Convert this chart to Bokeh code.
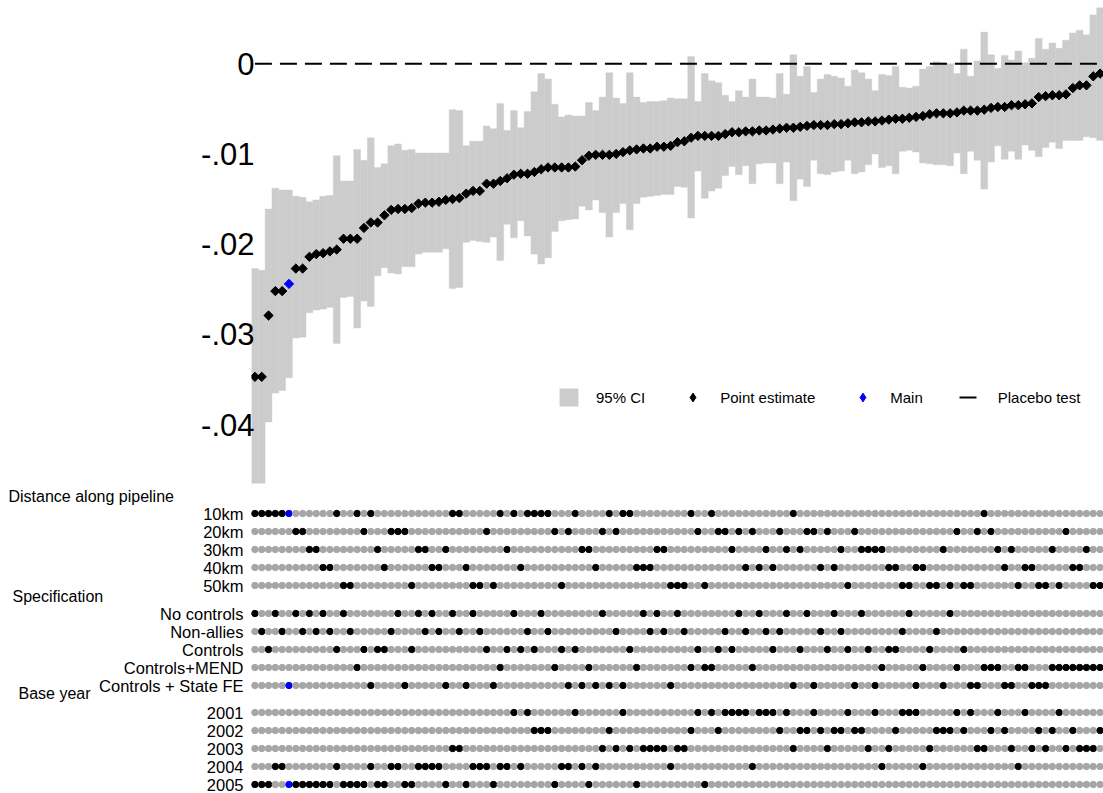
from bokeh.plotting import figure
from bokeh.models import Range1d, FixedTicker, CustomJSTickFormatter, Legend, LegendItem, ColumnDataSource
from bokeh.layouts import column
from bokeh.embed import file_html
from bokeh.resources import INLINE
from bokeh.core.properties import value
import math

# ---------------------------------------------------------------------------
# Specification curve: sorted point estimates with 95% confidence intervals
# ---------------------------------------------------------------------------
estimate = [
    -0.0347, -0.0347, -0.0279, -0.0252, -0.0252, -0.0244, -0.0227, -0.0227, -0.0214, -0.0211,
    -0.0210, -0.0208, -0.0206, -0.0194, -0.0194, -0.0194, -0.0182, -0.0176, -0.0176, -0.0168,
    -0.0162, -0.0161, -0.0161, -0.0160, -0.0155, -0.0154, -0.0154, -0.0153, -0.0151, -0.0150,
    -0.0149, -0.0144, -0.0141, -0.0141, -0.0133, -0.0133, -0.0130, -0.0127, -0.0123, -0.0122,
    -0.0122, -0.0120, -0.0117, -0.0115, -0.0115, -0.0115, -0.0115, -0.0114, -0.0107, -0.0102,
    -0.0101, -0.0101, -0.0101, -0.0100, -0.0098, -0.0096, -0.0095, -0.0094, -0.0094, -0.0092,
    -0.0092, -0.0091, -0.0087, -0.0086, -0.0082, -0.0080, -0.0080, -0.0080, -0.0080, -0.0078,
    -0.0076, -0.0076, -0.0075, -0.0075, -0.0074, -0.0074, -0.0073, -0.0072, -0.0071, -0.0071,
    -0.0070, -0.0069, -0.0068, -0.0068, -0.0068, -0.0067, -0.0067, -0.0066, -0.0065, -0.0065,
    -0.0064, -0.0064, -0.0063, -0.0062, -0.0061, -0.0061, -0.0060, -0.0059, -0.0058, -0.0056,
    -0.0055, -0.0055, -0.0055, -0.0054, -0.0052, -0.0052, -0.0052, -0.0051, -0.0049, -0.0048,
    -0.0048, -0.0046, -0.0046, -0.0045, -0.0044, -0.0037, -0.0036, -0.0035, -0.0035, -0.0034,
    -0.0027, -0.0024, -0.0024, -0.0014, -0.0011,
]

ci_upper = [
    -0.0227, -0.0229, -0.0161, -0.0138, -0.0140, -0.0140, -0.0147, -0.0148, -0.0153, -0.0151,
    -0.0147, -0.0146, -0.0102, -0.0130, -0.0130, -0.0095, -0.0107, -0.0082, -0.0115, -0.0111,
    -0.0091, -0.0089, -0.0096, -0.0095, -0.0099, -0.0099, -0.0099, -0.0099, -0.0099, -0.0051,
    -0.0052, -0.0091, -0.0086, -0.0086, -0.0069, -0.0072, -0.0044, -0.0074, -0.0052, -0.0071,
    -0.0053, -0.0031, -0.0011, -0.0017, -0.0045, -0.0059, -0.0057, -0.0058, -0.0058, -0.0043,
    -0.0052, -0.0037, -0.0010, -0.0038, -0.0044, -0.0010, -0.0037, -0.0043, -0.0042, -0.0042,
    -0.0041, -0.0038, -0.0039, -0.0039, 0.0008, -0.0042, -0.0011, -0.0019, -0.0021, -0.0035,
    -0.0042, -0.0030, -0.0037, -0.0017, -0.0037, -0.0037, -0.0038, -0.0011, -0.0034, 0.0010,
    -0.0014, -0.0003, -0.0032, -0.0017, -0.0012, -0.0014, -0.0016, -0.0025, -0.0007, -0.0010,
    -0.0017, -0.0030, -0.0012, -0.0013, -0.0003, -0.0026, -0.0027, -0.0025, -0.0006, -0.0003,
    0.0002, 0.0001, 0.0000, -0.0011, 0.0016, -0.0014, 0.0003, 0.0035, 0.0010, -0.0005,
    0.0009, 0.0004, 0.0014, 0.0001, 0.0006, 0.0028, 0.0016, 0.0023, 0.0017, 0.0026,
    0.0034, 0.0037, 0.0032, 0.0054, 0.0062,
]

ci_lower = [
    -0.0465, -0.0465, -0.0397, -0.0365, -0.0362, -0.0348, -0.0304, -0.0303, -0.0276, -0.0273,
    -0.0272, -0.0270, -0.0310, -0.0259, -0.0258, -0.0293, -0.0263, -0.0269, -0.0235, -0.0226,
    -0.0232, -0.0233, -0.0225, -0.0225, -0.0211, -0.0209, -0.0209, -0.0209, -0.0205, -0.0249,
    -0.0248, -0.0198, -0.0196, -0.0197, -0.0198, -0.0192, -0.0218, -0.0178, -0.0193, -0.0174,
    -0.0191, -0.0211, -0.0222, -0.0215, -0.0186, -0.0174, -0.0173, -0.0172, -0.0158, -0.0162,
    -0.0151, -0.0165, -0.0192, -0.0165, -0.0155, -0.0184, -0.0155, -0.0148, -0.0147, -0.0146,
    -0.0145, -0.0145, -0.0136, -0.0137, -0.0171, -0.0119, -0.0149, -0.0141, -0.0138, -0.0124,
    -0.0114, -0.0123, -0.0113, -0.0133, -0.0111, -0.0110, -0.0110, -0.0133, -0.0109, -0.0152,
    -0.0128, -0.0136, -0.0107, -0.0122, -0.0123, -0.0120, -0.0119, -0.0107, -0.0122, -0.0120,
    -0.0112, -0.0100, -0.0115, -0.0113, -0.0122, -0.0097, -0.0096, -0.0098, -0.0110, -0.0111,
    -0.0112, -0.0112, -0.0113, -0.0099, -0.0122, -0.0097, -0.0107, -0.0139, -0.0109, -0.0091,
    -0.0106, -0.0097, -0.0106, -0.0090, -0.0096, -0.0103, -0.0093, -0.0087, -0.0094, -0.0085,
    -0.0085, -0.0085, -0.0081, -0.0082, -0.0085,
]

placebo_value = 0.0

# Which specifications (by rank in the sorted curve) use each choice
dist_10km = [0, 1, 2, 3, 4, 5, 12, 15, 17, 29, 30, 36, 38, 40, 41, 42, 43, 47, 52, 54, 55, 64, 67, 79, 107]
dist_20km = [6, 7, 16, 20, 21, 22, 34, 44, 46, 51, 53, 65, 68, 69, 71, 73, 77, 81, 82, 84, 88, 103, 106, 108, 119]
dist_30km = [8, 9, 18, 24, 25, 28, 37, 48, 49, 59, 60, 70, 75, 78, 80, 86, 89, 90, 91, 92, 101, 109, 111, 117, 122]
dist_40km = [10, 11, 19, 26, 27, 31, 39, 50, 56, 57, 58, 72, 74, 76, 83, 85, 93, 94, 97, 98, 110, 113, 114, 120, 121]
dist_50km = [13, 14, 23, 32, 33, 35, 45, 61, 62, 63, 66, 87, 95, 96, 99, 100, 102, 104, 105, 112, 115, 116, 118, 123, 124]

spec_no_controls = [0, 3, 6, 8, 10, 13, 21, 24, 26, 29, 32, 38, 42, 51, 57, 59, 62, 71, 74, 78, 81, 85, 89, 96, 102]
spec_non_allies = [1, 4, 7, 9, 11, 14, 20, 25, 27, 30, 33, 40, 43, 53, 58, 60, 63, 69, 72, 75, 77, 83, 86, 95, 100]
spec_controls = [2, 12, 16, 18, 19, 23, 34, 37, 39, 41, 45, 47, 55, 65, 68, 70, 76, 80, 84, 87, 90, 93, 94, 99, 104]
spec_controls_mend = [15, 36, 44, 49, 56, 64, 66, 67, 73, 92, 98, 103, 107, 108, 109, 112, 113, 117, 118, 119, 120, 121, 122, 123, 124]
spec_controls_state_fe = [5, 17, 22, 28, 31, 35, 46, 48, 50, 52, 54, 61, 79, 82, 88, 91, 97, 101, 105, 106, 110, 111, 114, 115, 116]

year_2001 = [38, 40, 47, 54, 65, 67, 69, 70, 71, 72, 74, 75, 76, 78, 82, 87, 91, 95, 96, 97, 103, 105, 109, 113, 118]
year_2002 = [41, 42, 43, 52, 64, 68, 77, 80, 81, 83, 85, 86, 88, 89, 94, 100, 101, 102, 104, 108, 110, 115, 117, 120, 124]
year_2003 = [29, 30, 51, 53, 55, 57, 58, 59, 60, 62, 63, 79, 84, 90, 93, 99, 106, 107, 111, 114, 116, 119, 121, 122, 123]
year_2004 = [3, 4, 12, 17, 20, 21, 24, 25, 26, 27, 32, 33, 34, 36, 37, 39, 45, 46, 48, 50, 61, 73, 92, 98, 112]
year_2005 = [0, 1, 2, 5, 6, 7, 8, 9, 10, 11, 13, 14, 15, 16, 18, 19, 22, 23, 28, 31, 35, 44, 49, 56, 66]

y_ticks = [0.0, -0.01, -0.02, -0.03, -0.04]

groups = [
    ("Distance along pipeline", [("10km", dist_10km), ("20km", dist_20km), ("30km", dist_30km),
                                 ("40km", dist_40km), ("50km", dist_50km)]),
    ("Specification", [("No controls", spec_no_controls), ("Non-allies", spec_non_allies),
                       ("Controls", spec_controls), ("Controls+MEND", spec_controls_mend),
                       ("Controls + State FE", spec_controls_state_fe)]),
    ("Base year", [("2001", year_2001), ("2002", year_2002), ("2003", year_2003),
                   ("2004", year_2004), ("2005", year_2005)]),
]

# The headline specification: 10km, Controls + State FE, base year 2005
main_rows = [dist_10km, spec_controls_state_fe, year_2005]
main_idx = sorted(set(dist_10km) & set(spec_controls_state_fe) & set(year_2005))[0]

# ---------------------------------------------------------------------------
# Styling
# ---------------------------------------------------------------------------
FONT = "Liberation Sans"
W = 1103
TOP_H = 486
BOT_H = 793 - TOP_H
LEFT = 251                      # width reserved for labels left of the curve
PX_PER_UNIT = 9025              # vertical pixels per unit of the estimate
Y_TOP = 0.0070                  # value at the upper edge of the curve panel
CI_GRAY = "#cccccc"
DOT_GRAY = "#a6a6a6"
MAIN_BLUE = "#0000ff"

n = len(estimate)
idx = list(range(n))


def no_frame_align(p):
    # keep each panel's frame where it is instead of lining the frames up
    try:
        p.frame_align = False
    except AttributeError:
        pass


# ---------------------------------------------------------------------------
# Upper panel: estimates and intervals
# ---------------------------------------------------------------------------
top = figure(width=W, height=TOP_H, x_range=Range1d(-0.5, n - 0.5),
             y_range=Range1d(Y_TOP - TOP_H / PX_PER_UNIT, Y_TOP),
             output_backend="svg", toolbar_location=None, x_axis_location=None,
             min_border_left=LEFT, min_border_right=0, min_border_top=0, min_border_bottom=0)
no_frame_align(top)
top.grid.visible = False
top.outline_line_color = None

yax = top.yaxis[0]
yax.ticker = FixedTicker(ticks=y_ticks)
yax.formatter = CustomJSTickFormatter(code="""
    if (Math.abs(tick) < 1e-9) { return "0"; }
    const k = Math.round(Math.abs(tick) * 100);
    return (tick < 0 ? "-" : "") + "." + String(k).padStart(2, "0");
""")
yax.axis_line_color = None
yax.major_tick_line_color = None
yax.minor_tick_line_color = None
yax.major_label_text_font = FONT
yax.major_label_text_font_size = "31px"
yax.major_label_text_color = "black"
yax.major_label_standoff = -9

bars = top.vbar(x=idx, bottom=ci_lower, top=ci_upper, width=1.0,
                fill_color=CI_GRAY, line_color=CI_GRAY, line_width=0.4)

placebo = top.line(x=[0, n - 1], y=[placebo_value, placebo_value], line_color="black",
                   line_width=2, line_dash="17 8")

others = [i for i in idx if i != main_idx]

# legend keys (diamonds), placed underneath the curve's own markers
key_pts = top.scatter(x=[others[0]], y=[estimate[others[0]]], marker="diamond", size=6,
                      fill_color="black", line_color="black")
key_main = top.scatter(x=[main_idx], y=[estimate[main_idx]], marker="diamond", size=6,
                       fill_color=MAIN_BLUE, line_color=MAIN_BLUE)

pts = top.scatter(x=others, y=[estimate[i] for i in others], marker="square", angle=math.pi / 4,
                  size=6.6, fill_color="black", line_color="black")
main = top.scatter(x=[main_idx], y=[estimate[main_idx]], marker="square", angle=math.pi / 4,
                   size=6.6, fill_color=MAIN_BLUE, line_color=MAIN_BLUE)

legend = Legend(items=[LegendItem(label="95% CI", renderers=[bars]),
                       LegendItem(label="Point estimate", renderers=[key_pts]),
                       LegendItem(label="Main", renderers=[key_main]),
                       LegendItem(label="Placebo test", renderers=[placebo])],
                orientation="horizontal", location=(306, 78),
                border_line_color=None, background_fill_alpha=0,
                label_text_font=FONT, label_text_font_size="15px", label_text_color="black",
                glyph_width=23, glyph_height=22, label_standoff=16, spacing=36,
                padding=0, margin=0)
top.add_layout(legend)

# ---------------------------------------------------------------------------
# Lower panel: which choices make up each specification
# ---------------------------------------------------------------------------
px_per_col = (W - LEFT) / n
x0 = -0.5 - LEFT / px_per_col


def px_to_x(px):
    return x0 + px / px_per_col


bot = figure(width=W, height=BOT_H, x_range=Range1d(x0, n - 0.5), y_range=Range1d(793, TOP_H),
             output_backend="svg", toolbar_location=None, x_axis_location=None, y_axis_location=None,
             min_border=0)
no_frame_align(bot)
bot.grid.visible = False
bot.outline_line_color = None

group_first_row = [513, 613, 712]
group_header = [(8, 496), (12, 596), (18, 693)]
row_step = 18

dot_x, dot_y, dot_c = [], [], []
lab_x, lab_y, lab_t = [], [], []
head_x, head_y, head_t = [], [], []
for (title, rows), y_first, (hx, hy) in zip(groups, group_first_row, group_header):
    head_x.append(px_to_x(hx))
    head_y.append(hy)
    head_t.append(title)
    for k, (label, members) in enumerate(rows):
        y = y_first + k * row_step
        lab_x.append(px_to_x(243))
        lab_y.append(y)
        lab_t.append(label)
        chosen = set(members)
        is_main_row = any(members is r for r in main_rows)
        for i in idx:
            dot_x.append(i)
            dot_y.append(y)
            if i == main_idx and is_main_row:
                dot_c.append(MAIN_BLUE)
            elif i in chosen:
                dot_c.append("black")
            else:
                dot_c.append(DOT_GRAY)

bot.scatter(x="x", y="y", color="c", size=6.4, marker="circle",
            source=ColumnDataSource(dict(x=dot_x, y=dot_y, c=dot_c)))
bot.text(x=lab_x, y=lab_y, text=lab_t, text_font=value(FONT), text_font_size="16.5px",
         text_align="right", text_baseline="middle", text_color="black")
bot.text(x=head_x, y=head_y, text=head_t, text_font=value(FONT), text_font_size="16px",
         text_align="left", text_baseline="middle", text_color="black")

layout = column(top, bot, spacing=0)
open("out.html", "w").write(file_html(layout, INLINE))
